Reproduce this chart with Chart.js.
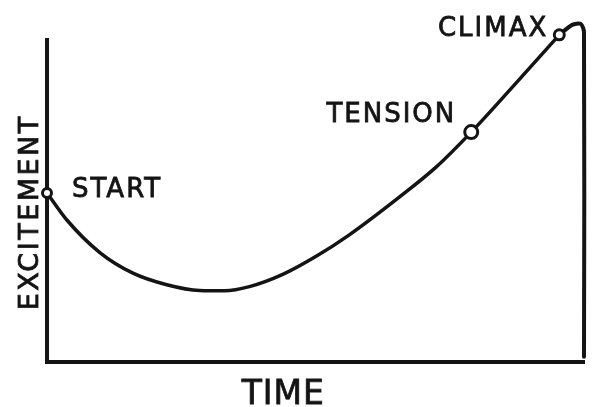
<!DOCTYPE html>
<html>
<head>
<meta charset="utf-8">
<script src="https://cdn.jsdelivr.net/npm/chart.js@4.4.1/dist/chart.umd.min.js"></script>
<style>
  html, body { margin: 0; padding: 0; background: #fff; }
  #wrap { width: 592px; height: 407px; }
</style>
</head>
<body>
<div id="wrap"><canvas id="story"></canvas></div>
<script>
// story arc, time 0-100 vs excitement 0-100
var timeValues = [0, 3.7, 9.9, 16, 22.3, 28.4, 33.1, 37.7, 43.9, 50.2, 56.3, 65.6, 72.5, 79, 87, 95.4];
var excitementValues = [52.5, 44.1, 33.9, 27.6, 24.0, 22.2, 22.1, 23.4, 27.2, 32.9, 39.5, 51.2, 60.6, 71.4, 86, 101.6];
var pointNames = ['START', '', '', '', '', '', '', '', '', '', '', '', '', 'TENSION', '', 'CLIMAX'];

// after the climax it drops right away
var dropTime = [95.4, 97.8, 99.4, 100, 100];
var dropExcitement = [101.6, 104.7, 105, 102.5, 1.6];

var xTitle = 'TIME';
var yTitle = 'EXCITEMENT';

var ink = '#141414';

function toXY(xs, ys) {
  var out = [];
  for (var i = 0; i < xs.length; i++) out.push({x: xs[i], y: ys[i]});
  return out;
}

// marker sizes, only named points get a circle
var radii = pointNames.map(function (n) {
  if (n == 'TENSION') return 6.5;
  if (n == 'CLIMAX') return 5;
  if (n == 'START') return 4.5;
  return 0;
});

var labelPlugin = {
  id: 'handLabels',
  afterDraw: function (chart) {
    var ctx = chart.ctx;
    var meta = chart.getDatasetMeta(0);
    var area = chart.chartArea;
    ctx.save();
    ctx.fillStyle = ink;
    ctx.strokeStyle = ink;
    ctx.lineWidth = 0.8;
    ctx.textBaseline = 'alphabetic';
    ctx.font = '26px "DejaVu Sans"';
    ctx.letterSpacing = '2px';

    pointNames.forEach(function (name, i) {
      if (!name) return;
      var p = meta.data[i];
      var tx, ty;
      if (name == 'START') { ctx.textAlign = 'left'; tx = p.x + 25; ty = p.y + 4; }
      else if (name == 'TENSION') { ctx.textAlign = 'right'; tx = p.x - 15; ty = p.y - 10; }
      else { ctx.textAlign = 'right'; tx = p.x - 11; ty = p.y + 1; }
      ctx.fillText(name, tx, ty);
      ctx.strokeText(name, tx, ty);
    });

    // axis titles
    ctx.font = '33px "DejaVu Sans"';
    ctx.letterSpacing = '1px';
    ctx.textAlign = 'center';
    var xs = chart.scales.x;
    ctx.fillText(xTitle, xs.getPixelForValue(44), area.bottom + 42);
    ctx.strokeText(xTitle, xs.getPixelForValue(44), area.bottom + 42);

    ctx.font = '27px "DejaVu Sans"';
    ctx.letterSpacing = '2.5px';
    var ys = chart.scales.y;
    ctx.translate(38, ys.getPixelForValue(46.5));
    ctx.rotate(-Math.PI / 2);
    ctx.fillText(yTitle, 0, 0);
    ctx.strokeText(yTitle, 0, 0);
    ctx.restore();
  }
};

var chart = new Chart(document.getElementById('story'), {
  type: 'line',
  data: {
    datasets: [{
      data: toXY(timeValues, excitementValues),
      borderColor: ink,
      borderWidth: 3.5,
      borderCapStyle: 'round',
      cubicInterpolationMode: 'monotone',
      fill: false,
      clip: false,
      pointRadius: radii,
      pointBackgroundColor: '#fff',
      pointBorderColor: ink,
      pointBorderWidth: 3
    }, {
      data: toXY(dropTime, dropExcitement),
      borderColor: ink,
      borderWidth: 4,
      borderCapStyle: 'round',
      borderJoinStyle: 'round',
      tension: 0.25,
      fill: false,
      clip: false,
      pointRadius: 0
    }]
  },
  options: {
    responsive: true,
    maintainAspectRatio: false,
    animation: false,
    layout: { padding: { left: 47, right: 7, top: 40, bottom: 45 } },
    plugins: {
      legend: { display: false },
      tooltip: { enabled: false }
    },
    scales: {
      x: {
        type: 'linear',
        min: 0,
        max: 100,
        ticks: { display: false },
        grid: { display: false, drawTicks: false },
        border: { display: true, color: ink, width: 4 }
      },
      y: {
        min: 0,
        max: 100,
        ticks: { display: false },
        grid: { display: false, drawTicks: false },
        border: { display: true, color: ink, width: 4 }
      }
    }
  },
  plugins: [labelPlugin]
});
</script>
</body>
</html>
